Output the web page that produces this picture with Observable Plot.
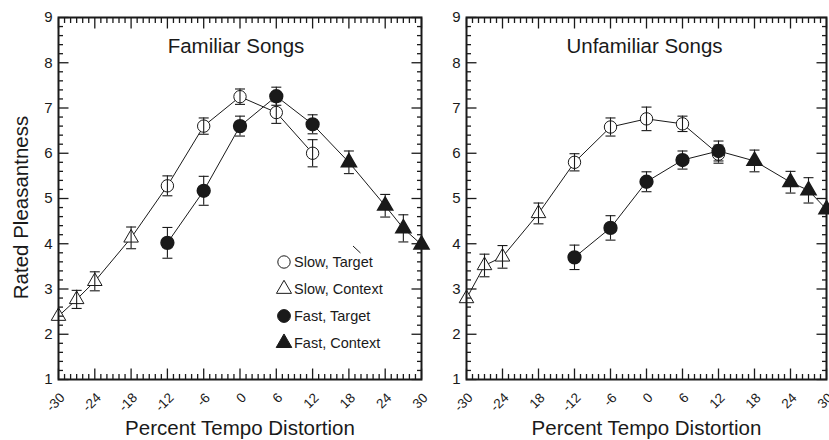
<!DOCTYPE html>
<html><head><meta charset="utf-8">
<script src="https://cdn.jsdelivr.net/npm/d3@7"></script>
<script src="https://cdn.jsdelivr.net/npm/@observablehq/plot@0.6"></script>
<style>
body{margin:0;background:#fff;}
#wrap{position:relative;width:829px;height:440px;overflow:hidden;background:#fff;}
#wrap svg{position:absolute;top:0;}
</style></head><body>
<div id="wrap"></div>
<script>
// ---- data ----
const targetX = [-12, -6, 0, 6, 12];
const slowContextX = [-30, -27, -24, -18];
const fastContextX = [18, 24, 27, 30];

// Familiar songs
const famSlowTarget = [5.28, 6.60, 7.25, 6.90, 6.00];
const famSlowTargetErr = [0.22, 0.18, 0.17, 0.24, 0.30];
const famSlowContext = [2.40, 2.77, 3.17, 4.13];
const famSlowContextErr = [null, 0.20, 0.21, 0.24];
const famFastTarget = [4.02, 5.17, 6.60, 7.26, 6.64];
const famFastTargetErr = [0.34, 0.32, 0.22, 0.20, 0.21];
const famFastContext = [5.80, 4.84, 4.34, 3.98];
const famFastContextErr = [0.25, 0.25, 0.30, null];

// Unfamiliar songs
const unfSlowTarget = [5.80, 6.58, 6.76, 6.65, 5.98];
const unfSlowTargetErr = [0.19, 0.20, 0.26, 0.17, 0.20];
const unfSlowContext = [2.79, 3.52, 3.71, 4.67];
const unfSlowContextErr = [null, 0.25, 0.25, 0.23];
const unfFastTarget = [3.70, 4.35, 5.37, 5.85, 6.05];
const unfFastTargetErr = [0.27, 0.27, 0.22, 0.20, 0.22];
const unfFastContext = [5.83, 5.36, 5.18, 4.76];
const unfFastContextErr = [0.24, 0.24, 0.28, null];

const xMajor = [-30, -24, -18, -12, -6, 0, 6, 12, 18, 24, 30];
const xTickLabelsLeft = ["-30", "-24", "-18", "-12", "-6", "0", "6", "12", "18", "24", "30"];
const xTickLabelsRight = ["-30", "-24", "18", "-12", "-6", "0", "6", "12", "18", "24", "30"];
const yMajor = [1, 2, 3, 4, 5, 6, 7, 8, 9];
const yTickLabels = ["1", "2", "3", "4", "5", "6", "7", "8", "9"];
const legendLabels = ["Slow, Target", "Slow, Context", "Fast, Target", "Fast, Context"];
const panelTitles = ["Familiar Songs", "Unfamiliar Songs"];
const xTitle = "Percent Tempo Distortion";
const yTitle = "Rated Pleasantness";

// ---- helpers ----
const FONT = '"Liberation Sans", Arial, Helvetica, sans-serif';
const INK = "#1a1a1a";
const xMinor = d3.range(-30, 31, 1).filter(v => v % 6 !== 0);
const yMinor = d3.range(1, 9.001, 0.2).map(v => +v.toFixed(1)).filter(v => Math.abs(v - Math.round(v)) > 1e-6);

function rows(xs, ys, es) { return xs.map((x, i) => ({x, y: ys[i], e: es[i]})); }
const capSymbol = {draw(ctx) { ctx.moveTo(-5, 0); ctx.lineTo(5, 0); }};

function frameTicks() {
  const m = [];
  const tk = {stroke: INK, fill: "none", label: null, strokeWidth: 1.3};
  m.push(Plot.axisY(yMajor, {...tk, anchor: "left", tickSize: 10.5, dx: 10.5}));
  m.push(Plot.axisY(yMajor, {...tk, anchor: "right", tickSize: 10.5, dx: -10.5}));
  m.push(Plot.axisY(yMinor, {...tk, anchor: "left", tickSize: 5, dx: 5}));
  m.push(Plot.axisY(yMinor, {...tk, anchor: "right", tickSize: 5, dx: -5}));
  m.push(Plot.axisX(xMajor, {...tk, anchor: "bottom", tickSize: 10.5, dy: -10.5}));
  m.push(Plot.axisX(xMajor, {...tk, anchor: "top", tickSize: 10.5, dy: 10.5}));
  m.push(Plot.axisX(xMinor, {...tk, anchor: "bottom", tickSize: 5, dy: -5}));
  m.push(Plot.axisX(xMinor, {...tk, anchor: "top", tickSize: 5, dy: 5}));
  return m;
}

function panel(o) {
  const slowAll = o.slowContext.concat(o.slowTarget);
  const fastAll = o.fastTarget.concat(o.fastContext);
  const errs = slowAll.concat(fastAll).filter(d => d.e != null);
  const lineOpt = {x: "x", y: "y", stroke: INK, strokeWidth: 1};
  const marks = [
    Plot.line(slowAll, lineOpt),
    Plot.line(fastAll, lineOpt),
    Plot.dot(o.slowTarget, {x: "x", y: "y", r: 6.2, symbol: "circle", fill: "white", stroke: INK, strokeWidth: 1}),
    Plot.dot(o.slowContext, {x: "x", y: "y", r: 5.4, symbol: "triangle", fill: "white", stroke: INK, strokeWidth: 1}),
    Plot.ruleX(errs, {x: "x", y1: d => d.y - d.e, y2: d => d.y + d.e, stroke: INK, strokeWidth: 1.1}),
    Plot.dot(errs, {x: "x", y: d => d.y + d.e, symbol: capSymbol, fill: "none", stroke: INK, strokeWidth: 1.1}),
    Plot.dot(errs, {x: "x", y: d => d.y - d.e, symbol: capSymbol, fill: "none", stroke: INK, strokeWidth: 1.1}),
    Plot.dot(o.fastTarget, {x: "x", y: "y", r: 6.4, symbol: "circle", fill: INK, stroke: INK}),
    Plot.dot(o.fastContext, {x: "x", y: "y", r: 5.6, symbol: "triangle", fill: INK, stroke: INK}),
    ...frameTicks(),
    Plot.frame({stroke: INK, strokeWidth: 2}),
    Plot.text(yMajor, {y: d => d, text: (d, i) => yTickLabels[i], frameAnchor: "left", textAnchor: "end", lineAnchor: "middle", dx: -6, fontSize: 15, fill: INK}),
    Plot.text(xMajor, {x: d => d, text: (d, i) => o.tickLabels[i], frameAnchor: "bottom", textAnchor: "end", lineAnchor: "middle", rotate: -45, dx: 4, dy: 16, fontSize: 13.5, fill: INK}),
    Plot.text([o.title], {frameAnchor: "top", textAnchor: "middle", lineAnchor: "middle", dy: 29, dx: o.titleDx, fontSize: 20.5, fill: INK}),
    Plot.text([xTitle], {frameAnchor: "bottom", textAnchor: "middle", lineAnchor: "middle", dy: 49, fontSize: 20.5, fill: INK})
  ];
  if (o.yTitle) marks.push(Plot.text([o.yTitle], {frameAnchor: "left", textAnchor: "middle", lineAnchor: "middle", rotate: -90, dx: -37, dy: 9, fontSize: 20.5, fill: INK}));
  return Plot.plot({
    width: o.width, height: 440,
    marginTop: 17, marginBottom: 61, marginLeft: o.marginLeft, marginRight: o.marginRight,
    x: {domain: [-30, 30], axis: null},
    y: {domain: [1, 9], axis: null},
    style: {fontFamily: FONT, background: "transparent", color: INK, overflow: o.overflow},
    marks
  });
}

const left = panel({
  title: panelTitles[0], titleDx: -4, tickLabels: xTickLabelsLeft, yTitle, overflow: "visible",
  width: 430, marginLeft: 58, marginRight: 9,
  slowTarget: rows(targetX, famSlowTarget, famSlowTargetErr),
  slowContext: rows(slowContextX, famSlowContext, famSlowContextErr),
  fastTarget: rows(targetX, famFastTarget, famFastTargetErr),
  fastContext: rows(fastContextX, famFastContext, famFastContextErr)
});
const right = panel({
  title: panelTitles[1], titleDx: -2, tickLabels: xTickLabelsRight, overflow: "hidden",
  width: 399, marginLeft: 36, marginRight: 3,
  slowTarget: rows(targetX, unfSlowTarget, unfSlowTargetErr),
  slowContext: rows(slowContextX, unfSlowContext, unfSlowContextErr),
  fastTarget: rows(targetX, unfFastTarget, unfFastTargetErr),
  fastContext: rows(fastContextX, unfFastContext, unfFastContextErr)
});
left.style.left = "0px";
right.style.left = "430px";
const wrap = document.getElementById("wrap");
wrap.appendChild(right);
wrap.appendChild(left);

// legend (inside the left panel)
const legendStyle = [
  {symbol: d3.symbolCircle, r: 6.2, fill: "white"},
  {symbol: d3.symbolTriangle, r: 5.6, fill: "white"},
  {symbol: d3.symbolCircle, r: 6.4, fill: INK},
  {symbol: d3.symbolTriangle, r: 5.8, fill: INK}
];
const lg = d3.select(left).append("g")
  .attr("font-family", FONT).attr("font-size", 14.5).attr("text-anchor", "start");
legendLabels.forEach((label, i) => {
  const y = 262 + i * 27;
  const s = legendStyle[i];
  lg.append("path")
    .attr("d", d3.symbol(s.symbol, Math.PI * s.r * s.r)())
    .attr("transform", `translate(284,${y})`)
    .attr("fill", s.fill).attr("stroke", INK).attr("stroke-width", 1);
  lg.append("text").attr("x", 294).attr("y", y).attr("dy", "0.35em")
    .attr("text-anchor", "start").attr("fill", INK).text(label);
});
lg.append("path").attr("d", "M353,246L360.5,253").attr("stroke", INK).attr("stroke-width", 1);
</script>
</body></html>
